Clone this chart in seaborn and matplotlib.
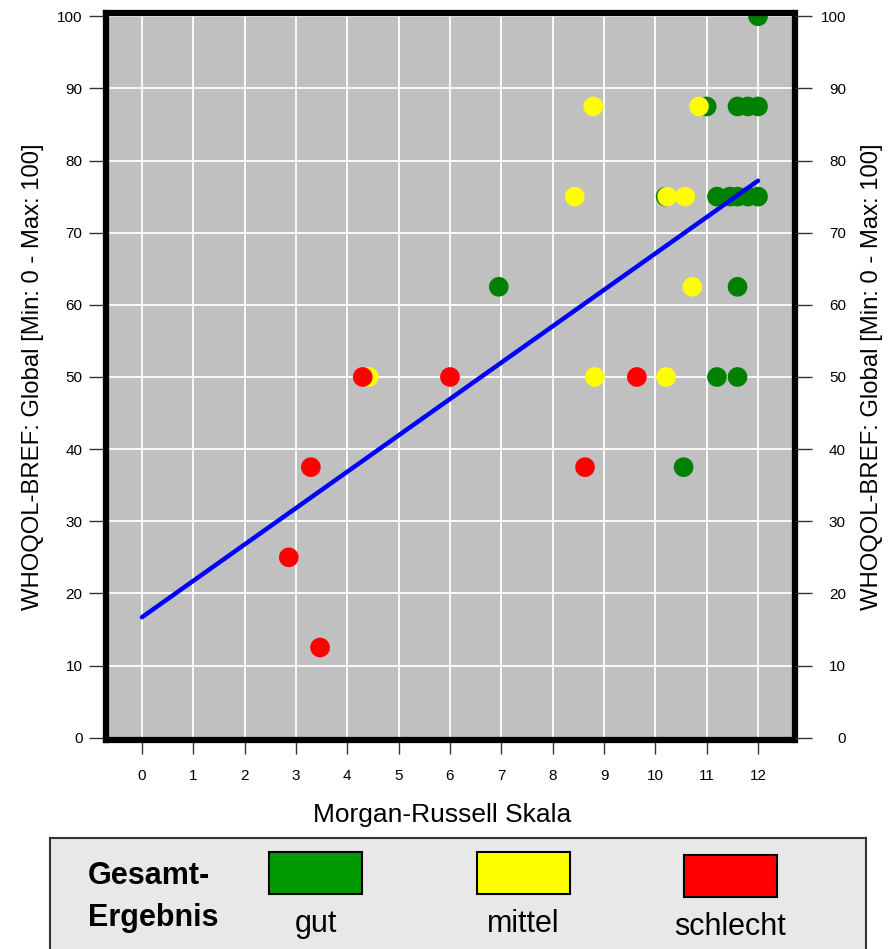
import matplotlib
matplotlib.use("Agg")
import matplotlib.pyplot as plt
from matplotlib.patches import Rectangle
import numpy as np
import pandas as pd
import seaborn as sns

# Morgan-Russell score vs. WHOQOL-BREF global score, grouped by overall outcome
gut_x = [12, 11, 11.6, 11.8, 12, 10.2, 11.2, 11.45, 11.6, 11.8, 12, 6.95, 11.6, 11.2, 11.6, 10.55]
gut_y = [100, 87.5, 87.5, 87.5, 87.5, 75, 75, 75, 75, 75, 75, 62.5, 62.5, 50, 50, 37.5]

mittel_x = [8.79, 10.85, 8.43, 10.23, 10.58, 10.72, 4.42, 8.82, 10.21]
mittel_y = [87.5, 87.5, 75, 75, 75, 62.5, 50, 50, 50]

schlecht_x = [4.3, 6.0, 9.64, 3.29, 8.63, 2.86, 3.47]
schlecht_y = [50, 50, 50, 37.5, 37.5, 25, 12.5]

# linear fit drawn over the full scale range
fit_x = [0, 12]
fit_y = [16.7, 77.2]

groups = ["gut", "mittel", "schlecht"]
point_colors = {"gut": "#008000", "mittel": "#ffff00", "schlecht": "#ff0000"}
legend_colors = ["#009900", "#ffff00", "#ff0000"]

x_ticks = list(range(0, 13))
y_ticks = list(range(0, 101, 10))

df = pd.concat([
    pd.DataFrame({"mrs": gut_x, "whoqol": gut_y, "gruppe": "gut"}),
    pd.DataFrame({"mrs": mittel_x, "whoqol": mittel_y, "gruppe": "mittel"}),
    pd.DataFrame({"mrs": schlecht_x, "whoqol": schlecht_y, "gruppe": "schlecht"}),
], ignore_index=True)
fit_df = pd.DataFrame({"mrs": fit_x, "whoqol": fit_y})

sns.set_style("ticks")
plt.rcParams["font.family"] = ["Liberation Sans", "DejaVu Sans"]
plt.rcParams["text.color"] = "black"
plt.rcParams["axes.labelcolor"] = "black"
plt.rcParams["xtick.labelcolor"] = "black"
plt.rcParams["ytick.labelcolor"] = "black"

W, H = 890, 949
fig = plt.figure(figsize=(W / 100, H / 100), dpi=100)

ax_left, ax_right, ax_top, ax_bottom = 106, 794.5, 13, 739.5
ax = fig.add_axes([ax_left / W, 1 - ax_bottom / H, (ax_right - ax_left) / W,
                   (ax_bottom - ax_top) / H])
ax.set_facecolor("#c0c0c0")
ax.set_xlim(-0.70, 12.71)
ax.set_ylim(-0.25, 100.45)
ax.set_xticks(x_ticks)
ax.set_yticks(y_ticks)
ax.grid(True, color="white", linewidth=1.3, zorder=0)
ax.set_axisbelow(True)

sns.scatterplot(data=df, x="mrs", y="whoqol", hue="gruppe", hue_order=groups,
                palette=point_colors, s=200, linewidth=0, alpha=1,
                legend=False, ax=ax, zorder=3)
sns.lineplot(data=fit_df, x="mrs", y="whoqol", color="#0000ff", linewidth=3.2,
             ax=ax, zorder=4)

for sp in ax.spines.values():
    sp.set_linewidth(4.5)
    sp.set_color("black")
    sp.set_zorder(5)

ax.tick_params(axis="x", direction="out", length=10, width=1, color="#333333",
               labelsize=11, pad=11)
ax.tick_params(axis="y", direction="out", length=12, width=1, color="#333333",
               labelsize=11, pad=5)
ax.set_xlabel("Morgan-Russell Skala", fontsize=19)
ax.xaxis.set_label_coords((442 - ax_left) / (ax_right - ax_left),
                          -(815 - ax_bottom) / (ax_bottom - ax_top), transform=ax.transAxes)
ax.xaxis.label.set_va("center")
ylab = "WHOQOL-BREF: Global [Min: 0 - Max: 100]"
ax.set_ylabel(ylab, fontsize=17.2, labelpad=9)

ax2 = ax.twinx()
ax2.set_ylim(ax.get_ylim())
ax2.set_yticks(y_ticks)
ax2.tick_params(axis="y", direction="out", length=12, width=1, color="#333333",
                labelsize=11, pad=25)
for lbl in ax2.get_yticklabels():
    lbl.set_horizontalalignment("right")
ax2.set_ylabel(ylab, fontsize=17.2, labelpad=11)
for sp in ax2.spines.values():
    sp.set_visible(False)

# outcome legend panel below the plot
lax = fig.add_axes([50 / W, 1 - 960 / H, (866 - 50) / W, (960 - 838) / H])
lax.set_xlim(50, 866)
lax.set_ylim(960, 838)
lax.set_facecolor("#e8e8e8")
lax.set_xticks([])
lax.set_yticks([])
for sp in lax.spines.values():
    sp.set_linewidth(1.5)
    sp.set_color("#333333")

lax.text(88, 876, "Gesamt-", fontsize=22, fontweight="bold",
         ha="left", va="center")
lax.text(88, 918, "Ergebnis", fontsize=22, fontweight="bold",
         ha="left", va="center")

box_left = [269, 477, 684]
box_top = [852, 852, 855]
for left, top, col, name in zip(box_left, box_top, legend_colors, groups):
    lax.add_patch(Rectangle((left, top), 93, 42, facecolor=col,
                            edgecolor="black", linewidth=1.5))
    lax.text(left + 46.5, top + 72, name, fontsize=22,
             ha="center", va="center")

fig.savefig("out.png", dpi=100)
